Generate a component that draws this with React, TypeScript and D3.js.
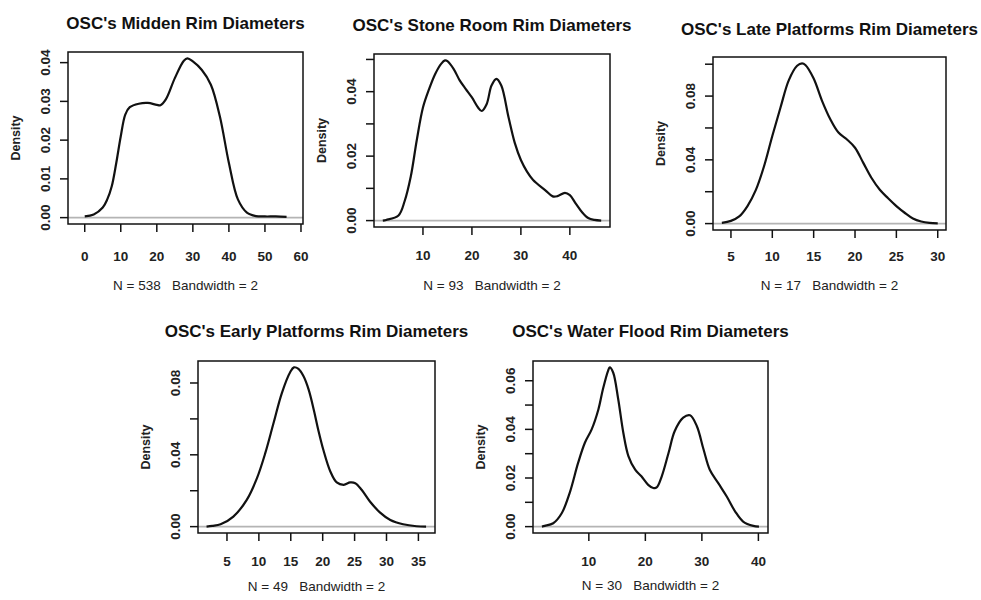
import * as d3 from 'd3';

const FONT = '"Liberation Sans", Arial, Helvetica, sans-serif';

// Density estimates (x = rim diameter, d = density)
const MIDDEN_X = [0, 2.5, 5, 6.25, 7.5, 8.75, 10, 11.25, 12.5, 15, 17.5, 20, 21, 22.5, 25, 27.5, 28.5, 30, 32.5, 35, 37.5, 40, 42.5, 45, 47.5, 50, 53, 56];
const MIDDEN_D = [0.0003, 0.0008, 0.0026, 0.0047, 0.0081, 0.0141, 0.021, 0.0266, 0.0285, 0.0294, 0.0296, 0.0291, 0.029, 0.0305, 0.036, 0.0405, 0.0411, 0.0403, 0.0381, 0.0343, 0.0261, 0.0141, 0.0047, 0.0013, 0.0004, 0.0003, 0.0003, 0.0002];

const STONE_X = [1.8, 2.5, 5, 6.25, 7.5, 8.75, 10, 11.25, 12.5, 13.75, 14.5, 15, 16.25, 17.5, 18.75, 20, 21.25, 22, 23, 24, 25, 26, 27.5, 28.75, 30, 31.25, 32.5, 35, 36.5, 37.5, 39, 40, 41.25, 42.5, 43.75, 45, 46.4];
const STONE_D = [0, 0.0002, 0.0016, 0.006, 0.0136, 0.0251, 0.0351, 0.0408, 0.0455, 0.0487, 0.0497, 0.0495, 0.0471, 0.0435, 0.0408, 0.0382, 0.0351, 0.034, 0.0361, 0.0419, 0.044, 0.0419, 0.0319, 0.0241, 0.0188, 0.0152, 0.0126, 0.0094, 0.0075, 0.0076, 0.0086, 0.0079, 0.0052, 0.0026, 0.0008, 0.0002, 0];

const LATE_X = [3.9, 5, 6, 7, 8, 9, 10, 11, 12, 13, 13.6, 14, 15, 16, 17, 18, 19, 20, 21, 22, 23, 24, 25, 26, 27, 28, 29, 30];
const LATE_D = [0.0005, 0.0017, 0.0045, 0.011, 0.021, 0.036, 0.055, 0.073, 0.09, 0.099, 0.1005, 0.0995, 0.091, 0.0772, 0.0656, 0.0571, 0.0529, 0.0476, 0.0381, 0.0286, 0.0212, 0.0159, 0.011, 0.0068, 0.0032, 0.0013, 0.0004, 0.0001];

const EARLY_X = [1.8, 2.7, 4, 6, 8.1, 9.7, 11, 12.3, 13.6, 14.9, 15.5, 16.2, 17, 17.8, 18.6, 19.3, 20.1, 21.2, 22.2, 23.3, 24.3, 25.1, 26.1, 27.4, 29, 30.6, 32.6, 34.7, 36.2];
const EARLY_D = [0, 0.0004, 0.0013, 0.0056, 0.0149, 0.027, 0.0409, 0.0577, 0.0744, 0.086, 0.0887, 0.0878, 0.0837, 0.0763, 0.0651, 0.054, 0.0428, 0.0307, 0.0246, 0.0233, 0.0246, 0.0242, 0.0205, 0.014, 0.0078, 0.0037, 0.0013, 0.0002, 0];

const FLOOD_X = [1.7, 2.2, 3.7, 5.2, 6.6, 8.1, 9.3, 10.5, 11.7, 12.5, 13.4, 13.7, 14.3, 15.2, 16.1, 17, 18.2, 19.3, 20.5, 21.4, 22, 22.9, 24.1, 25.2, 26.7, 27.9, 29.1, 30.3, 31.4, 32.9, 34.4, 35.9, 37.3, 39.1, 40.1];
const FLOOD_D = [0, 0.0003, 0.0014, 0.0055, 0.0138, 0.0262, 0.0345, 0.04, 0.0483, 0.0566, 0.0641, 0.0655, 0.0634, 0.0524, 0.0386, 0.029, 0.0234, 0.0207, 0.0172, 0.0159, 0.0161, 0.0207, 0.0303, 0.0393, 0.0448, 0.0458, 0.0414, 0.0317, 0.0234, 0.0179, 0.0124, 0.0062, 0.0021, 0.0003, 0];

const TITLES = [
  "OSC's Midden Rim Diameters",
  "OSC's Stone Room Rim Diameters",
  "OSC's Late Platforms Rim Diameters",
  "OSC's Early Platforms Rim Diameters",
  "OSC's Water Flood Rim Diameters",
];
const SAMPLE_SIZES = [538, 93, 17, 49, 30];
const BANDWIDTH = 2;

const X_TICKS = [
  [0, 10, 20, 30, 40, 50, 60],
  [10, 20, 30, 40],
  [5, 10, 15, 20, 25, 30],
  [5, 10, 15, 20, 25, 30, 35],
  [10, 20, 30, 40],
];
const Y_TICKS = [
  [0, 0.01, 0.02, 0.03, 0.04],
  [0, 0.01, 0.02, 0.03, 0.04, 0.05],
  [0, 0.02, 0.04, 0.06, 0.08, 0.1],
  [0, 0.02, 0.04, 0.06, 0.08],
  [0, 0.01, 0.02, 0.03, 0.04, 0.05, 0.06],
];
const Y_LABELS = [
  ['0.00', '0.01', '0.02', '0.03', '0.04'],
  ['0.00', '', '0.02', '', '0.04', ''],
  ['0.00', '', '0.04', '', '0.08', ''],
  ['0.00', '', '0.04', '', '0.08'],
  ['0.00', '', '0.02', '', '0.04', '', '0.06'],
];
const X_DOMAINS: [number, number][] = [
  [-4.64, 60.56],
  [0, 48.2],
  [2.83, 31.0],
  [0.46, 37.6],
  [0.12, 41.7],
];

const SERIES = [
  [MIDDEN_X, MIDDEN_D],
  [STONE_X, STONE_D],
  [LATE_X, LATE_D],
  [EARLY_X, EARLY_D],
  [FLOOD_X, FLOOD_D],
];

// panel layout: plot box and label rows
const PANELS = [
  { left: 68, right: 303, top: 52, bottom: 224, titleY: 23, tickY: 256, subY: 285 },
  { left: 374, right: 610, top: 54, bottom: 227, titleY: 25, tickY: 255, subY: 285 },
  { left: 713, right: 946, top: 57, bottom: 230, titleY: 29, tickY: 256, subY: 285 },
  { left: 198, right: 435, top: 361, bottom: 533, titleY: 331, tickY: 561, subY: 586 },
  { left: 533, right: 768, top: 361, bottom: 533, titleY: 331, tickY: 561, subY: 585 },
];

function Panel({ i }: { i: number }) {
  const p = PANELS[i];
  const [xs, ds] = SERIES[i];
  const pts = xs.map((x, k) => [x, ds[k]] as [number, number]);
  const maxD = d3.max(ds) as number;
  const x = d3.scaleLinear().domain(X_DOMAINS[i]).range([p.left, p.right]);
  const y = d3.scaleLinear().domain([-0.04 * maxD, 1.04 * maxD]).range([p.bottom, p.top]);
  const line = d3
    .line<[number, number]>()
    .x((d) => x(d[0]))
    .y((d) => y(d[1]))
    .curve(d3.curveCatmullRom.alpha(0.5));
  const cx = (p.left + p.right) / 2;
  const cy = (p.top + p.bottom) / 2;

  return (
    <g>
      <text x={cx} y={p.titleY} dy="0.36em" textAnchor="middle" fontSize={17} fontWeight="bold" fill="#111">
        {TITLES[i]}
      </text>
      <line x1={p.left} x2={p.right} y1={y(0)} y2={y(0)} stroke="#b4b4b4" strokeWidth={1.6} />
      <path d={line(pts) ?? ''} fill="none" stroke="#111" strokeWidth={2.2} strokeLinejoin="round" />
      <rect x={p.left} y={p.top} width={p.right - p.left} height={p.bottom - p.top} fill="none" stroke="#111" strokeWidth={1.5} />
      {X_TICKS[i].map((t) => (
        <g key={'x' + t}>
          <line x1={x(t)} x2={x(t)} y1={p.bottom} y2={p.bottom + 8} stroke="#111" strokeWidth={1.5} />
          <text x={x(t)} y={p.tickY} dy="0.36em" textAnchor="middle" fontSize={13.5} fontWeight="bold" fill="#222">
            {t}
          </text>
        </g>
      ))}
      {Y_TICKS[i].map((t, k) => (
        <g key={'y' + t}>
          <line x1={p.left - 8} x2={p.left} y1={y(t)} y2={y(t)} stroke="#111" strokeWidth={1.5} />
          {Y_LABELS[i][k] && (
            <text
              transform={`translate(${p.left - 23},${y(t)}) rotate(-90)`}
              dy="0.36em"
              textAnchor="middle"
              fontSize={13.5}
              fontWeight="bold"
              fill="#222"
            >
              {Y_LABELS[i][k]}
            </text>
          )}
        </g>
      ))}
      <text
        transform={`translate(${p.left - 53},${cy}) rotate(-90)`}
        dy="0.36em"
        textAnchor="middle"
        fontSize={12.5}
        fontWeight="bold"
        fill="#222"
      >
        Density
      </text>
      <text x={cx} y={p.subY} dy="0.36em" textAnchor="middle" fontSize={13.5} fill="#222" style={{ whiteSpace: 'pre' }}>
        {`N = ${SAMPLE_SIZES[i]}   Bandwidth = ${BANDWIDTH}`}
      </text>
    </g>
  );
}

export default function App() {
  return (
    <svg
      width={981}
      height={600}
      style={{ position: 'absolute', left: 0, top: 0, background: '#fff', fontFamily: FONT }}
    >
      <rect width={981} height={600} fill="#fff" />
      {PANELS.map((_, i) => (
        <Panel key={i} i={i} />
      ))}
    </svg>
  );
}
